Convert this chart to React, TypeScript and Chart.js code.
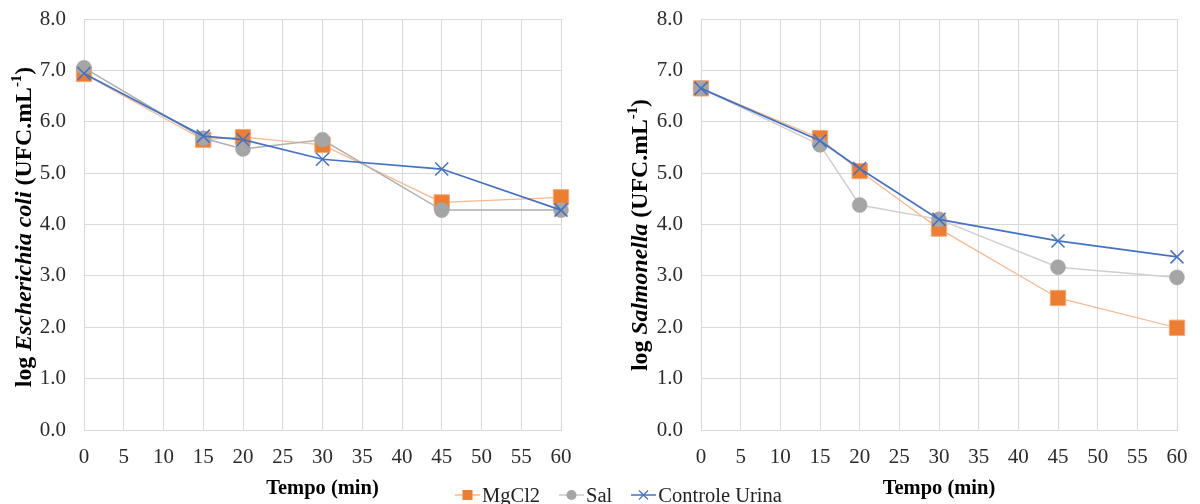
import { useEffect, useRef } from 'react';
import { Chart, registerables } from 'chart.js';

Chart.register(...registerables);

const FAMILY = "'Liberation Serif', 'Times New Roman', serif";

// Sampling times (min)
const minutes = [0, 15, 20, 30, 45, 60];

// log Escherichia coli (UFC.mL-1)
const ecoliMgCl2 = [6.93, 5.65, 5.7, 5.55, 4.43, 4.53];
const ecoliSal = [7.05, 5.68, 5.47, 5.65, 4.28, 4.28];
const ecoliControle = [6.94, 5.72, 5.65, 5.27, 5.08, 4.28];

// log Salmonella (UFC.mL-1)
const salmMgCl2 = [6.65, 5.68, 5.04, 3.92, 2.57, 1.99];
const salmSal = [6.65, 5.55, 4.38, 4.1, 3.17, 2.97];
const salmControle = [6.65, 5.63, 5.09, 4.1, 3.68, 3.37];

const seriesNames = ['MgCl2', 'Sal', 'Controle Urina'];
const xTitle = 'Tempo (min)';

type Seg = { text: string; italic?: boolean; sup?: boolean };

const ecoliTitle: Seg[] = [
  { text: 'log ' },
  { text: 'Escherichia coli', italic: true },
  { text: ' (UFC.mL' },
  { text: '-1', sup: true },
  { text: ')' },
];
const salmTitle: Seg[] = [
  { text: 'log ' },
  { text: 'Salmonella', italic: true },
  { text: ' (UFC.mL' },
  { text: '-1', sup: true },
  { text: ')' },
];

const ORANGE = '#ED7D31';
const GRAY = '#A5A5A5';
const BLUE = '#4472C4';
const GRID = '#D9D9D9';

// Rotated, mixed-style y-axis title drawn onto the canvas
function yTitlePlugin(id: string, segs: Seg[], cx: number, cy: number, size: number) {
  return {
    id,
    afterDraw(chart: any) {
      const ctx = chart.ctx as CanvasRenderingContext2D;
      ctx.save();
      ctx.translate(cx, cy);
      ctx.rotate(-Math.PI / 2);
      ctx.textBaseline = 'middle';
      ctx.textAlign = 'left';
      ctx.fillStyle = '#000';
      const parts = segs.map((s) => {
        const fs = s.sup ? size * 0.62 : size;
        const font = `${s.italic ? 'italic ' : ''}bold ${fs}px ${FAMILY}`;
        ctx.font = font;
        return { ...s, font, w: ctx.measureText(s.text).width };
      });
      const total = parts.reduce((a, p) => a + p.w, 0);
      let x = -total / 2;
      for (const p of parts) {
        ctx.font = p.font;
        ctx.fillText(p.text, x, p.sup ? -size * 0.33 : 0);
        x += p.w;
      }
      ctx.restore();
    },
  };
}

function pts(ys: number[]) {
  return minutes.map((m, i) => ({ x: m, y: ys[i] }));
}

function makeConfig(
  mg: number[],
  sal: number[],
  ctrl: number[],
  salLine: string,
  axisWidth: number,
  padRight: number,
  titlePlugin: any
): any {
  return {
    type: 'line',
    data: {
      datasets: [
        {
          label: seriesNames[0],
          data: pts(mg),
          borderColor: '#F6B88E',
          borderWidth: 1.25,
          pointStyle: 'rect',
          pointRadius: 10.8,
          pointBackgroundColor: ORANGE,
          pointBorderColor: '#F4A674',
          pointBorderWidth: 1,
          order: 2,
          clip: false,
        },
        {
          label: seriesNames[1],
          data: pts(sal),
          borderColor: salLine,
          borderWidth: 1.5,
          pointStyle: 'circle',
          pointRadius: 7.5,
          pointBackgroundColor: GRAY,
          pointBorderColor: GRAY,
          pointBorderWidth: 0.5,
          order: 1,
          clip: false,
        },
        {
          label: seriesNames[2],
          data: pts(ctrl),
          borderColor: BLUE,
          borderWidth: 1.75,
          pointStyle: 'crossRot',
          pointRadius: 9.2,
          pointBackgroundColor: 'transparent',
          pointBorderColor: BLUE,
          pointBorderWidth: 1.5,
          order: 0,
          clip: false,
        },
      ],
    },
    options: {
      responsive: false,
      animation: false,
      devicePixelRatio: 1,
      layout: { autoPadding: false, padding: { top: 19, right: padRight, bottom: 0, left: 0 } },
      plugins: {
        legend: { display: false },
        tooltip: { enabled: false },
      },
      scales: {
        x: {
          type: 'linear',
          min: 0,
          max: 60,
          afterFit: (s: any) => {
            s.height = 74;
            s.paddingLeft = 0;
            s.paddingRight = 0;
          },
          ticks: {
            stepSize: 5,
            padding: 15,
            color: '#2b2b2b',
            font: { family: FAMILY, size: 21 },
          },
          grid: { color: GRID, lineWidth: 1, drawTicks: false },
          border: { color: GRID, width: 1 },
          title: {
            display: true,
            text: xTitle,
            color: '#000',
            padding: { top: 0, bottom: 3 },
            font: { family: FAMILY, size: 20.5, weight: 'bold' },
          },
        },
        y: {
          type: 'linear',
          min: 0,
          max: 8,
          afterFit: (s: any) => {
            s.width = axisWidth;
            s.paddingTop = 0;
            s.paddingBottom = 0;
          },
          ticks: {
            stepSize: 1,
            padding: 18,
            color: '#2b2b2b',
            font: { family: FAMILY, size: 21 },
            callback: (v: any) => Number(v).toFixed(1),
          },
          grid: { color: GRID, lineWidth: 1, drawTicks: false },
          border: { color: GRID, width: 1 },
        },
      },
    },
    plugins: [titlePlugin],
  };
}

function LegendMarker({ kind }: { kind: number }) {
  if (kind === 0) {
    return (
      <svg width={25} height={24}>
        <line x1={0} y1={12} x2={25} y2={12} stroke="#F6B88E" strokeWidth={1.5} />
        <rect x={7.5} y={7} width={10} height={10} fill={ORANGE} />
      </svg>
    );
  }
  if (kind === 1) {
    return (
      <svg width={25} height={24}>
        <line x1={0} y1={12} x2={25} y2={12} stroke="#C8C8C8" strokeWidth={1.5} />
        <circle cx={12.5} cy={12} r={5} fill={GRAY} />
      </svg>
    );
  }
  return (
    <svg width={25} height={24}>
      <line x1={0} y1={12} x2={25} y2={12} stroke={BLUE} strokeWidth={1.5} />
      <line x1={8} y1={7.5} x2={17} y2={16.5} stroke={BLUE} strokeWidth={1.2} />
      <line x1={8} y1={16.5} x2={17} y2={7.5} stroke={BLUE} strokeWidth={1.2} />
    </svg>
  );
}

export default function App() {
  const leftRef = useRef<HTMLCanvasElement>(null);
  const rightRef = useRef<HTMLCanvasElement>(null);

  useEffect(() => {
    const left = new Chart(
      leftRef.current!,
      makeConfig(
        ecoliMgCl2,
        ecoliSal,
        ecoliControle,
        '#AFAFAF',
        84,
        39,
        yTitlePlugin('ecoliTitle', ecoliTitle, 25, 227, 23.8)
      )
    );
    const right = new Chart(
      rightRef.current!,
      makeConfig(
        salmMgCl2,
        salmSal,
        salmControle,
        '#CFCFCF',
        101,
        23,
        yTitlePlugin('salmTitle', salmTitle, 41, 235, 23.8)
      )
    );
    return () => {
      left.destroy();
      right.destroy();
    };
  }, []);

  return (
    <div
      style={{
        position: 'absolute',
        left: 0,
        top: 0,
        width: 1200,
        height: 504,
        background: '#fff',
        overflow: 'hidden',
      }}
    >
      <canvas
        ref={leftRef}
        width={600}
        height={504}
        style={{ position: 'absolute', left: 0, top: 0, width: 600, height: 504 }}
      />
      <canvas
        ref={rightRef}
        width={600}
        height={504}
        style={{ position: 'absolute', left: 600, top: 0, width: 600, height: 504 }}
      />
      <div
        style={{
          position: 'absolute',
          left: 455,
          top: 483,
          height: 24,
          display: 'flex',
          alignItems: 'center',
          fontFamily: FAMILY,
          fontSize: '20.5px',
          lineHeight: '24px',
          color: '#222',
          whiteSpace: 'nowrap',
        }}
      >
        {seriesNames.map((name, i) => (
          <div key={name} style={{ display: 'flex', alignItems: 'center', marginRight: 19 }}>
            <LegendMarker kind={i} />
            <span style={{ marginLeft: 2 }}>{name}</span>
          </div>
        ))}
      </div>
    </div>
  );
}
